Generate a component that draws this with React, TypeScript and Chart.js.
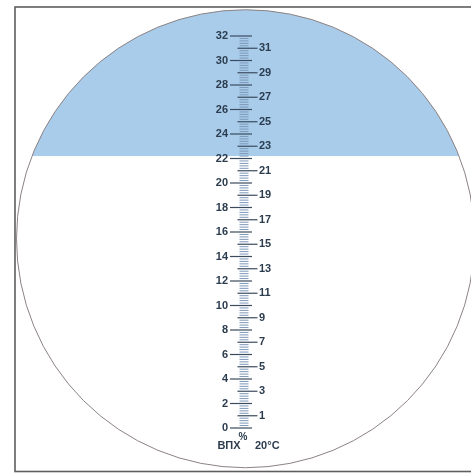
import React, { useRef, useEffect } from "react";
import Chart from "chart.js/auto";

// refractometer scale, % Brix
const evenMarks = [0, 2, 4, 6, 8, 10, 12, 14, 16, 18, 20, 22, 24, 26, 28, 30, 32];
const oddMarks = [1, 3, 5, 7, 9, 11, 13, 15, 17, 19, 21, 23, 25, 27, 29, 31];
const minorMarks = Array.from({ length: 161 }, (_, i) => i / 5).filter(
  (v) => Math.abs(v - Math.round(v)) > 0.01
);
const readingLevel = 22.2;
const unitLabel = "BПX";
const percentLabel = "%";
const tempLabel = "20°C";

const PX = 12.25; // pixels per brix unit
const LABEL_COLOR = "#2b3c4e";

const circlePlugin = {
  id: "field",
  beforeDatasetsDraw(chart) {
    const { ctx } = chart;
    const xs = chart.scales.x;
    const ys = chart.scales.y;
    const cx = xs.getPixelForValue(2.5 / PX);
    const cy = ys.getPixelForValue(15.45);
    const r = 229;
    ctx.save();
    // frame
    ctx.strokeStyle = "#5e5e5e";
    ctx.lineWidth = 1.6;
    ctx.strokeRect(15, 7, 470, 464.5);
    // field of view
    ctx.beginPath();
    ctx.arc(cx, cy, r, 0, Math.PI * 2);
    ctx.fillStyle = "#ffffff";
    ctx.fill();
    ctx.save();
    ctx.clip();
    ctx.fillStyle = "#a9cceb";
    const yb = ys.getPixelForValue(readingLevel);
    ctx.fillRect(0, 0, chart.width, yb);
    ctx.restore();
    ctx.beginPath();
    ctx.arc(cx, cy, r, 0, Math.PI * 2);
    ctx.strokeStyle = "#8c8282";
    ctx.lineWidth = 1;
    ctx.stroke();
    ctx.restore();
  },
  afterDatasetsDraw(chart) {
    const { ctx } = chart;
    const xs = chart.scales.x;
    const ys = chart.scales.y;
    const cx = xs.getPixelForValue(0);
    ctx.save();
    ctx.fillStyle = LABEL_COLOR;
    ctx.font = 'bold 11px "Liberation Sans", Arial, sans-serif';
    ctx.textBaseline = "middle";
    ctx.textAlign = "right";
    evenMarks.forEach((v) => {
      ctx.fillText(String(v), cx - 15, ys.getPixelForValue(v));
    });
    ctx.textAlign = "left";
    oddMarks.forEach((v) => {
      ctx.fillText(String(v), cx + 16, ys.getPixelForValue(v));
    });
    const yb = ys.getPixelForValue(0) + 18;
    ctx.textAlign = "center";
    ctx.fillText(unitLabel, cx - 14, yb);
    ctx.textAlign = "left";
    ctx.fillText(tempLabel, cx + 12, yb);
    ctx.font = 'bold 10px "Liberation Sans", Arial, sans-serif';
    ctx.textAlign = "center";
    ctx.fillText(percentLabel, cx, yb - 9);
    ctx.restore();
  },
};

const App = () => {
  const canvasRef = useRef(null);

  useEffect(() => {
    const tick = (marks, dx, radius, color, width) => ({
      data: marks.map((v) => ({ x: dx / PX, y: v })),
      pointStyle: "line",
      pointRadius: radius,
      pointBorderColor: color,
      pointBorderWidth: width,
      pointHoverRadius: radius,
      showLine: false,
      clip: false,
    });

    const chart = new Chart(canvasRef.current, {
      type: "scatter",
      data: {
        datasets: [
          tick(minorMarks, 1, 4.5, "#7d98b8", 1),
          tick(evenMarks, -2, 11, "#3a4b5e", 1.2),
          tick(oddMarks, 4.5, 10, "#3a4b5e", 1.2),
        ],
      },
      options: {
        animation: false,
        responsive: true,
        maintainAspectRatio: false,
        layout: { padding: 0, autoPadding: false },
        plugins: {
          legend: { display: false },
          tooltip: { enabled: false },
        },
        events: [],
        scales: {
          x: { type: "linear", display: false, min: -243 / PX, max: 228 / PX },
          y: { type: "linear", display: false, min: -46 / PX, max: 428 / PX },
        },
      },
      plugins: [circlePlugin],
    });

    return () => chart.destroy();
  }, []);

  return (
    <div style={{ position: "fixed", left: 0, top: 0, width: 471, height: 474, background: "#fff" }}>
      <canvas ref={canvasRef}></canvas>
    </div>
  );
};

export default App;
